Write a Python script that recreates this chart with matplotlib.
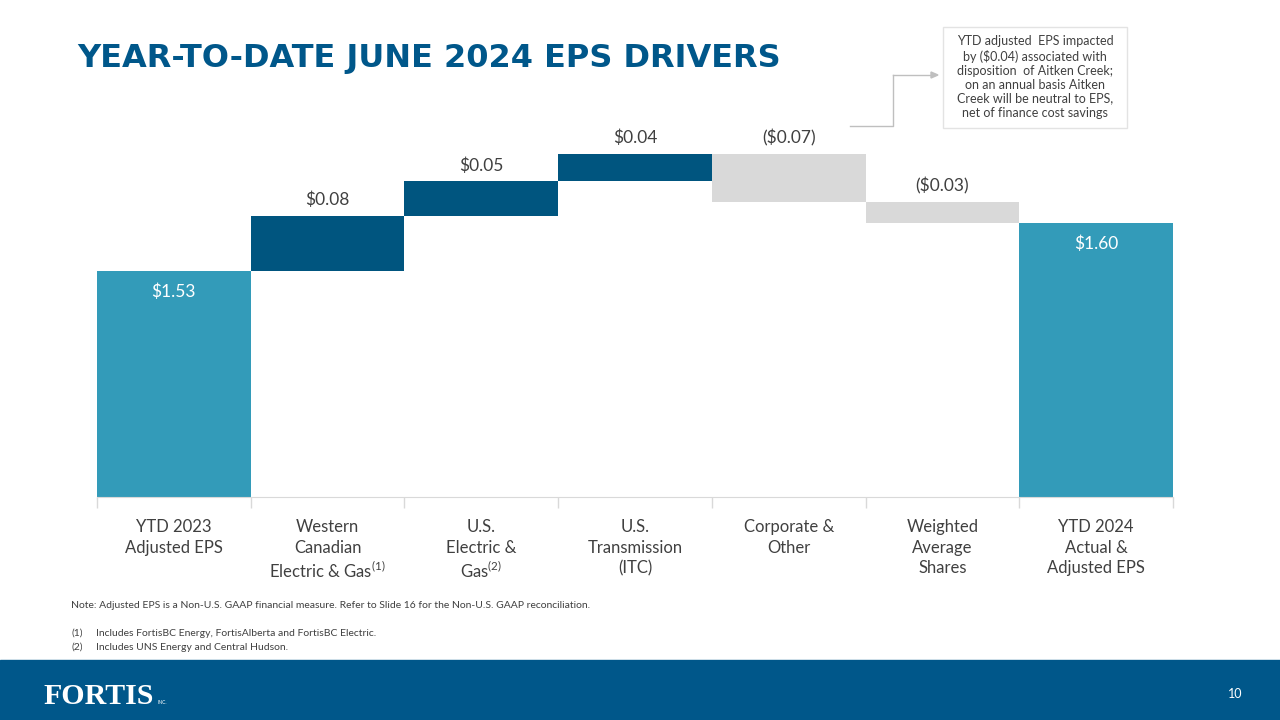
import numpy as np
import matplotlib.pyplot as plt
from matplotlib.patches import Rectangle

# data
categories = ["YTD 2023\nAdjusted EPS", "Western\nCanadian\nElectric & Gas$^{(1)}$",
              "U.S.\nElectric &\nGas$^{(2)}$", "U.S.\nTransmission\n(ITC)",
              "Corporate &\nOther", "Weighted\nAverage\nShares",
              "YTD 2024\nActual &\nAdjusted EPS"]
start_eps = 1.53
deltas = [0.08, 0.05, 0.04, -0.07, -0.03]
end_eps = 1.60

TEAL = "#339BB9"
NAVY = "#00557F"
GREY = "#D9D9D9"
TITLE = "#00578A"
FONT = "Lato"
BASE = 1.20

plt.rcParams['font.family'] = [FONT, 'DejaVu Sans']
plt.rcParams['mathtext.fontset'] = 'custom'
plt.rcParams['mathtext.rm'] = FONT
plt.rcParams['mathtext.it'] = FONT

fig = plt.figure(figsize=(12.8, 7.2), dpi=100)
ax = fig.add_axes([97/1280, 1 - 497/720, 1076/1280, 367/720])

x = np.arange(len(categories))
cum = start_eps
bottoms, heights, colors = [BASE], [start_eps - BASE], [TEAL]
for d in deltas:
    if d >= 0:
        bottoms.append(cum); heights.append(d); colors.append(NAVY)
    else:
        bottoms.append(cum + d); heights.append(-d); colors.append(GREY)
    cum += d
bottoms.append(BASE); heights.append(end_eps - BASE); colors.append(TEAL)

ax.bar(x, heights, bottom=bottoms, width=1.0, color=colors, linewidth=0)

def fmt(v):
    return f"${v:.2f}" if v >= 0 else f"(${-v:.2f})"

# total labels inside the bars
for i, v in [(0, start_eps), (len(x) - 1, end_eps)]:
    ax.annotate(fmt(v), (x[i], v), xytext=(0, -15), textcoords='offset points',
                ha='center', va='center', color='white', fontsize=12.5)
# delta labels above
cum = start_eps
for i, d in enumerate(deltas, start=1):
    top = cum + max(d, 0)
    ax.annotate(fmt(d), (x[i], top), xytext=(0, 11.5), textcoords='offset points',
                ha='center', va='center', color='#404040', fontsize=12.5)
    cum += d

ax.set_xlim(-0.5, len(x) - 0.5)
ax.set_ylim(BASE, 1.735)
ax.set_yticks([])
for s in ['top', 'right', 'left']:
    ax.spines[s].set_visible(False)
ax.spines['bottom'].set_color(GREY)
ax.set_xticks(np.arange(-0.5, len(x)))
ax.set_xticklabels([])
ax.tick_params(axis='x', length=8, color=GREY, width=1)
ax.set_xticks(x, minor=True)
ax.set_xticklabels(categories, minor=True, fontsize=12, color='#404040', linespacing=1.33)
ax.tick_params(axis='x', which='minor', length=0, pad=16)

# title
fig.text(77/1280, 1 - 58/720, "YEAR-TO-DATE JUNE 2024 EPS DRIVERS", fontsize=23,
         fontweight='bold', color=TITLE, family='DejaVu Sans', va='center', ha='left')

# callout box
fig.text(1035/1280, 1 - 77/720,
         "YTD adjusted  EPS impacted\nby (\\$0.04) associated with\ndisposition  of Aitken Creek;\n"
         "on an annual basis Aitken\nCreek will be neutral to EPS,\nnet of finance cost savings",
         ha='center', va='center', fontsize=9, color='#404040', linespacing=1.2)
fig.patches.append(Rectangle((943/1280, 1 - 128/720), 184/1280, 101/720,
                             transform=fig.transFigure, fill=False,
                             edgecolor='#E3E3E3', linewidth=1))
fig.add_artist(plt.Line2D([850/1280, 893/1280, 893/1280], [1 - 126/720, 1 - 126/720, 1 - 75/720],
                          transform=fig.transFigure, color='#BFBFBF', linewidth=1))
fig.add_artist(plt.Line2D([893/1280, 931/1280], [1 - 75/720, 1 - 75/720],
                          transform=fig.transFigure, color='#BFBFBF', linewidth=1))
fig.add_artist(plt.Polygon([[931/1280, 1 - 72/720], [938/1280, 1 - 75/720], [931/1280, 1 - 78/720]],
                           closed=True, transform=fig.transFigure, color='#BFBFBF'))

# notes
fig.text(71/1280, 1 - 606/720,
         "Note: Adjusted EPS is a Non-U.S. GAAP financial measure. Refer to Slide 16 for the Non-U.S. GAAP reconciliation.",
         fontsize=7.5, color='#404040', va='center')
fig.text(71/1280, 1 - 633/720, "(1)", fontsize=7.5, color='#404040', va='center')
fig.text(96/1280, 1 - 633/720, "Includes FortisBC Energy, FortisAlberta and FortisBC Electric.",
         fontsize=7.5, color='#404040', va='center')
fig.text(71/1280, 1 - 647/720, "(2)", fontsize=7.5, color='#404040', va='center')
fig.text(96/1280, 1 - 647/720, "Includes UNS Energy and Central Hudson.",
         fontsize=7.5, color='#404040', va='center')

# footer band
fig.patches.append(Rectangle((0, 0), 1, 60/720, transform=fig.transFigure,
                             color=TITLE, zorder=0))
fig.text(43/1280, 1 - 696/720, "FORTIS", fontsize=21.5, color='white', family='Liberation Serif',
         fontweight='bold', va='center', ha='left')
fig.text(157/1280, 1 - 702/720, "INC.", fontsize=3.5, color='white', va='center')
fig.text(1235/1280, 1 - 694/720, "10", fontsize=9, color='white', va='center', ha='center')

fig.savefig("out.png", dpi=100)
